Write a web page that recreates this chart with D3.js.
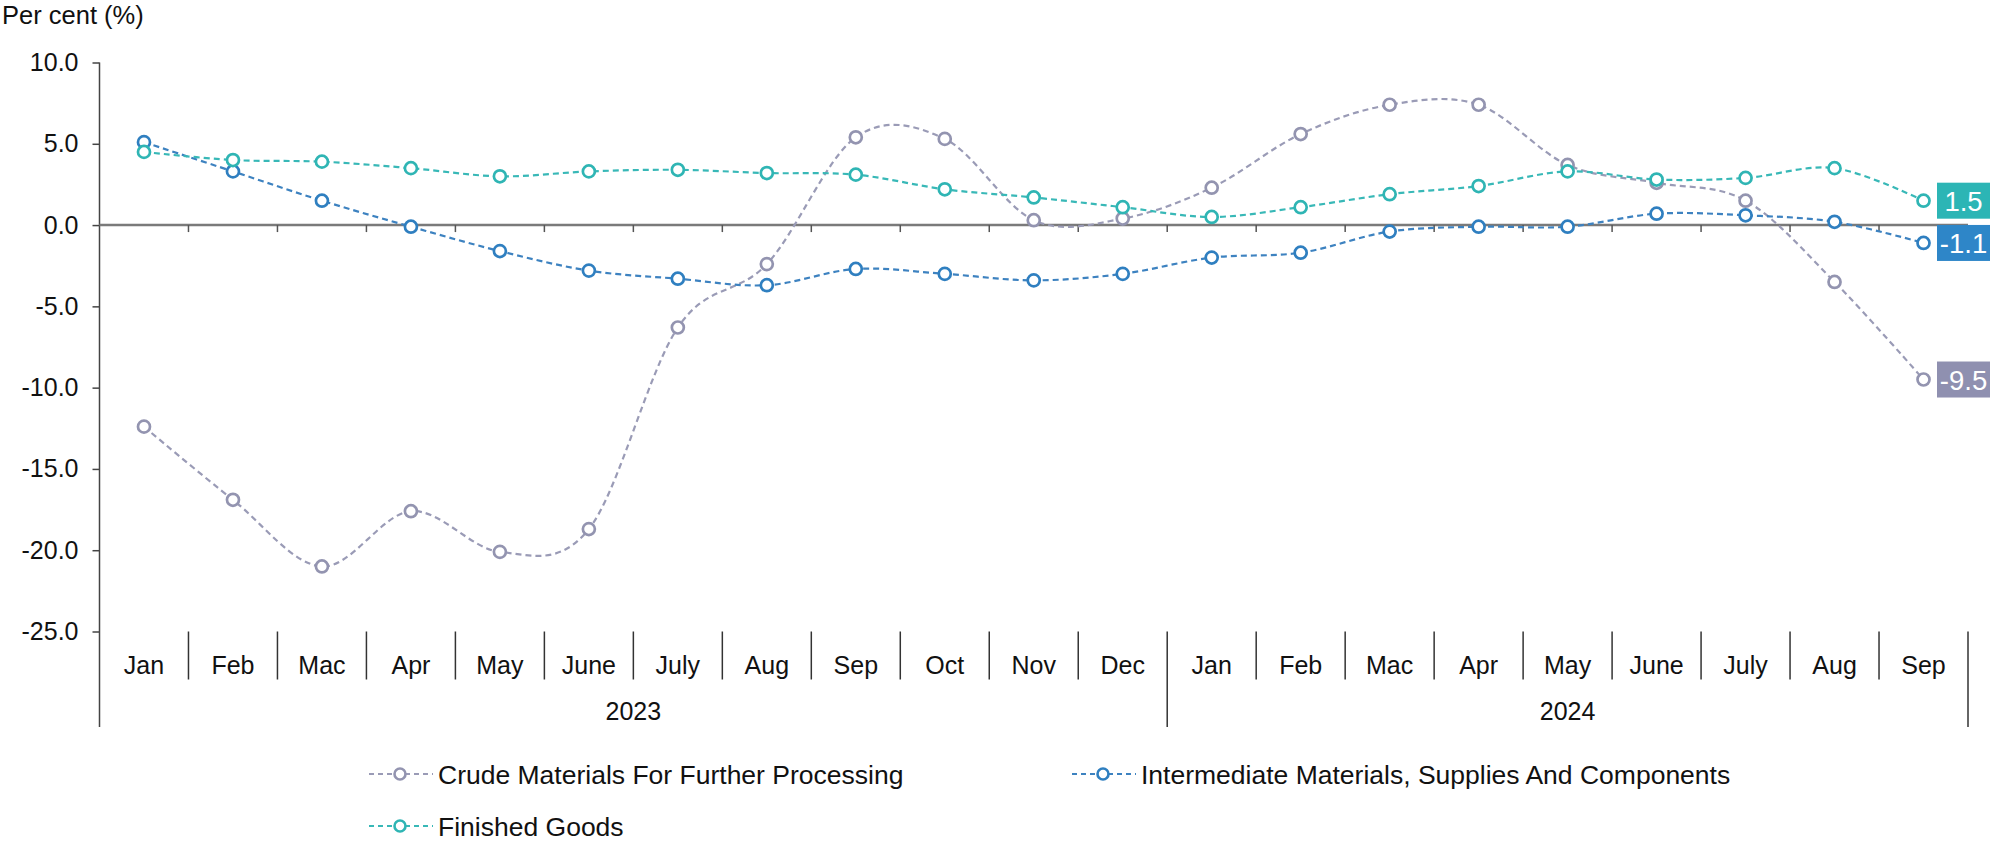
<!DOCTYPE html>
<html>
<head>
<meta charset="utf-8">
<script src="https://cdn.jsdelivr.net/npm/d3@7"></script>
<style>
  html, body { margin: 0; padding: 0; background: #fff; }
  svg { display: block; }
  text { font-family: "Liberation Sans", Arial, Helvetica, sans-serif; fill: #111; }
</style>
</head>
<body>
<svg id="chart" width="2000" height="841"></svg>
<script>
const months = ["Jan","Feb","Mac","Apr","May","June","July","Aug","Sep","Oct","Nov","Dec",
                "Jan","Feb","Mac","Apr","May","June","July","Aug","Sep"];
const years = ["2023", "2024"];
const yearCounts = [12, 9];
const yTicks = [10, 5, 0, -5, -10, -15, -20, -25];

const seriesNames = ["Crude Materials For Further Processing",
                     "Intermediate Materials, Supplies And Components",
                     "Finished Goods"];
const crude = [-12.4, -16.9, -21.0, -17.6, -20.1, -18.7, -6.3, -2.4, 5.4, 5.3, 0.3, 0.4,
               2.3, 5.6, 7.4, 7.4, 3.7, 2.6, 1.5, -3.5, -9.5];
const intermediate = [5.1, 3.3, 1.5, -0.1, -1.6, -2.8, -3.3, -3.7, -2.7, -3.0, -3.4, -3.0,
                      -2.0, -1.7, -0.4, -0.1, -0.1, 0.7, 0.6, 0.2, -1.1];
const finished = [4.5, 4.0, 3.9, 3.5, 3.0, 3.3, 3.4, 3.2, 3.1, 2.2, 1.7, 1.1,
                  0.5, 1.1, 1.9, 2.4, 3.3, 2.8, 2.9, 3.5, 1.5];

const lineColors = ["#9a9bb6", "#3d82c0", "#38b8b7"];
const markColors = ["#9394b0", "#2f7fc0", "#2fb5b4"];
const boxColors  = ["#8f90b0", "#2e86c8", "#2cb5b5"];
const seriesData = [crude, intermediate, finished];

const svg = d3.select("#chart");
const FS = 25;
const LFS = 26.5;

const x = d3.scaleBand().domain(d3.range(months.length)).range([99.5, 1968]).padding(0);
const y = d3.scaleLinear().domain([-25, 10]).range([631.5, 62.5]);
const cx = i => x(i) + x.bandwidth() / 2;

// Axis title
svg.append("text").attr("x", 2).attr("y", 24).attr("font-size", FS + 0.5).text("Per cent (%)");

// Y axis
const yAxis = d3.axisLeft(y).tickValues(yTicks).tickSize(7).tickPadding(14)
  .tickFormat(d => d.toFixed(1));
const yg = svg.append("g").attr("transform", "translate(99.5,0)").call(yAxis);
yg.select(".domain").remove();
yg.selectAll(".tick line").attr("stroke", "#444").attr("stroke-width", 1.5);
yg.selectAll(".tick text").attr("font-size", FS).attr("fill", "#111")
  .attr("font-family", "Liberation Sans, Arial, sans-serif");
svg.append("line").attr("x1", 99.5).attr("x2", 99.5).attr("y1", y(10)).attr("y2", 727)
  .attr("stroke", "#444").attr("stroke-width", 1.5);

// Zero line with small ticks
svg.append("line").attr("x1", 99.5).attr("x2", 1968).attr("y1", y(0)).attr("y2", y(0))
  .attr("stroke", "#7a7a7a").attr("stroke-width", 2.5);
svg.append("g").selectAll("line").data(d3.range(1, months.length + 1)).join("line")
  .attr("x1", i => i < months.length ? x(i) : x.range()[1])
  .attr("x2", i => i < months.length ? x(i) : x.range()[1])
  .attr("y1", y(0)).attr("y2", y(0) + 7)
  .attr("stroke", "#555").attr("stroke-width", 1.5);

// Category axis (months)
const xAxis = d3.axisBottom(x).tickSize(0).tickPadding(0).tickFormat(i => months[i]);
const xg = svg.append("g").attr("transform", `translate(0,${y(-25)})`).call(xAxis);
xg.select(".domain").remove();
xg.selectAll(".tick text").attr("font-size", FS).attr("fill", "#111")
  .attr("dy", null).attr("y", 42.5)
  .attr("font-family", "Liberation Sans, Arial, sans-serif");

// Month separators
const yearStarts = [0, yearCounts[0]];
svg.append("g").selectAll("line").data(d3.range(1, months.length)).join("line")
  .filter(i => !yearStarts.includes(i))
  .attr("x1", i => x(i)).attr("x2", i => x(i))
  .attr("y1", y(-25)).attr("y2", y(-25) + 48)
  .attr("stroke", "#333").attr("stroke-width", 1.5);

// Year separators and labels
const yearBounds = [0, yearCounts[0], months.length];
svg.append("g").selectAll("line").data(yearBounds.slice(1)).join("line")
  .attr("x1", i => i < months.length ? x(i) : x.range()[1])
  .attr("x2", i => i < months.length ? x(i) : x.range()[1])
  .attr("y1", y(-25)).attr("y2", 727)
  .attr("stroke", "#333").attr("stroke-width", 1.5);
svg.append("g").selectAll("text").data(years).join("text")
  .attr("x", (d, k) => {
    const a = x(yearBounds[k]);
    const b = yearBounds[k + 1] < months.length ? x(yearBounds[k + 1]) : x.range()[1];
    return (a + b) / 2;
  })
  .attr("y", 720).attr("text-anchor", "middle").attr("font-size", FS).text(d => d);

// Lines
const line = d3.line().x((d, i) => cx(i)).y(d => y(d)).curve(d3.curveCardinal.tension(0));
seriesData.forEach((data, s) => {
  svg.append("path").datum(data).attr("d", line)
    .attr("fill", "none").attr("stroke", lineColors[s]).attr("stroke-width", 2.2)
    .attr("stroke-dasharray", "6,4");
});
seriesData.forEach((data, s) => {
  svg.append("g").selectAll("circle").data(data).join("circle")
    .attr("cx", (d, i) => cx(i)).attr("cy", d => y(d)).attr("r", 6)
    .attr("fill", "#fff").attr("stroke", markColors[s]).attr("stroke-width", 2.7);
});

// End labels
seriesData.forEach((data, s) => {
  const v = data[data.length - 1];
  const g = svg.append("g").attr("transform", `translate(1937,${y(v)})`);
  g.append("rect").attr("x", 0).attr("y", -18).attr("width", 53).attr("height", 36)
    .attr("fill", boxColors[s]);
  g.append("text").attr("x", 26.5).attr("y", 10).attr("text-anchor", "middle")
    .attr("font-size", 27.5).style("fill", "#fff").text(v.toFixed(1));
});

// Legend
const legendPos = [[369, 774], [1072, 774], [369, 826]];
seriesNames.forEach((name, s) => {
  const [lx, ly] = legendPos[s];
  const g = svg.append("g").attr("transform", `translate(${lx},${ly})`);
  g.append("line").attr("x1", 0).attr("x2", 64).attr("y1", 0).attr("y2", 0)
    .attr("stroke", lineColors[s]).attr("stroke-width", 2.2).attr("stroke-dasharray", "5,4");
  g.append("circle").attr("cx", 31).attr("cy", 0).attr("r", 5.5)
    .attr("fill", "#fff").attr("stroke", markColors[s]).attr("stroke-width", 2.6);
  g.append("text").attr("x", 69).attr("y", 9.5).attr("font-size", LFS).text(name);
});
</script>
</body>
</html>
